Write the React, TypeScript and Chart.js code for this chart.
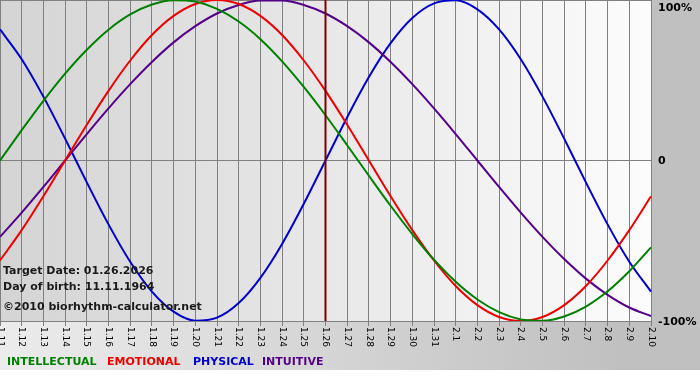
import React, { useEffect, useRef } from "react";
import { Chart, registerables } from "chart.js";

Chart.register(...registerables);

const labels = [
  "1.11", "1.12", "1.13", "1.14", "1.15", "1.16", "1.17", "1.18", "1.19", "1.20",
  "1.21", "1.22", "1.23", "1.24", "1.25", "1.26", "1.27", "1.28", "1.29", "1.30",
  "1.31", "2.1", "2.2", "2.3", "2.4", "2.5", "2.6", "2.7", "2.8", "2.9", "2.10",
];

const physical = [81.7, 63.1, 39.8, 13.6, -13.6, -39.8, -63.1, -81.7, -94.2, -99.8, -97.9, -88.8, -73.1, -52.0, -27.0, 0, 27.0, 52.0, 73.1, 88.8, 97.9, 99.8, 94.2, 81.7, 63.1, 39.8, 13.6, -13.6, -39.8, -63.1, -81.7];
const emotional = [-62.3, -43.4, -22.3, 0, 22.3, 43.4, 62.3, 78.2, 90.1, 97.5, 100, 97.5, 90.1, 78.2, 62.3, 43.4, 22.3, 0, -22.3, -43.4, -62.3, -78.2, -90.1, -97.5, -100, -97.5, -90.1, -78.2, -62.3, -43.4, -22.3];
const intellectual = [0, 18.9, 37.2, 54.1, 69.0, 81.5, 91.0, 97.2, 99.9, 99.0, 94.5, 86.6, 75.6, 61.8, 45.8, 28.2, 9.5, -9.5, -28.2, -45.8, -61.8, -75.6, -86.6, -94.5, -99.0, -99.9, -97.2, -91.0, -81.5, -69.0, -54.1];
const intuitive = [-47.6, -32.5, -16.5, 0, 16.5, 32.5, 47.6, 61.4, 73.6, 83.7, 91.6, 96.9, 99.7, 99.7, 96.9, 91.6, 83.7, 73.6, 61.4, 47.6, 32.5, 16.5, 0, -16.5, -32.5, -47.6, -61.4, -73.6, -83.7, -91.6, -96.9];

const yTickLabels = ["100%", "0", "-100%"];
const yTickValues = [100, 0, -100];
const legendItems = ["INTELLECTUAL", "EMOTIONAL", "PHYSICAL", "INTUITIVE"];
const legendX = [7, 107, 193, 262];
const colors = { intellectual: "#008000", emotional: "#ee0000", physical: "#0000cc", intuitive: "#550088" };
const legendColors = [colors.intellectual, colors.emotional, colors.physical, colors.intuitive];
const targetIndex = 15;
const infoLines = ["Target Date: 01.26.2026", "Day of birth: 11.11.1964"];
const copyright = "\u00a92010 biorhythm-calculator.net";

const decorPlugin = {
  id: "decor",
  beforeDraw(chart: any) {
    const { ctx, width, height, chartArea } = chart;
    ctx.save();
    const g = ctx.createLinearGradient(0, 0, 620, 0);
    g.addColorStop(0, "#ececec");
    g.addColorStop(1, "#c0c0c0");
    ctx.fillStyle = g;
    ctx.fillRect(0, 0, width, 370);
    ctx.fillStyle = "#ffffff";
    ctx.fillRect(0, 370, width, height - 370);
    const g2 = ctx.createLinearGradient(chartArea.left, 0, chartArea.right, 0);
    g2.addColorStop(0, "#d4d4d4");
    g2.addColorStop(1, "#fcfcfc");
    ctx.fillStyle = g2;
    ctx.fillRect(chartArea.left, chartArea.top, chartArea.right - chartArea.left, chartArea.bottom - chartArea.top);
    ctx.restore();
  },
  afterDatasetsDraw(chart: any) {
    const { ctx, chartArea, scales } = chart;
    const x = scales.x.getPixelForValue(targetIndex);
    ctx.save();
    ctx.strokeStyle = "#800000";
    ctx.lineWidth = 2;
    ctx.beginPath();
    ctx.moveTo(x, chartArea.top);
    ctx.lineTo(x, chartArea.bottom);
    ctx.stroke();

    ctx.fillStyle = "#1a1a1a";
    ctx.font = "bold 11px 'DejaVu Sans'";
    ctx.textBaseline = "middle";
    ctx.textAlign = "left";
    ctx.fillText(infoLines[0], 3, 271);
    ctx.fillText(infoLines[1], 3, 287);
    ctx.fillText(copyright, 3, 307);
    ctx.restore();
  },
  afterDraw(chart: any) {
    const { ctx, chartArea, scales } = chart;
    ctx.save();
    ctx.fillStyle = "#000000";
    ctx.font = "9px 'DejaVu Sans'";
    ctx.textAlign = "left";
    ctx.textBaseline = "middle";
    labels.forEach((lab, i) => {
      const x = scales.x.getPixelForValue(i);
      ctx.save();
      ctx.translate(x, chartArea.bottom + 6);
      ctx.rotate(Math.PI / 2);
      ctx.fillText(lab, 0, 0);
      ctx.restore();
    });
    ctx.font = "bold 11px 'DejaVu Sans'";
    yTickLabels.forEach((lab, i) => {
      let y = scales.y.getPixelForValue(yTickValues[i]);
      if (i === 0) y += 7;
      ctx.fillText(lab, chartArea.right + 7, y + 1);
    });
    legendItems.forEach((lab, i) => {
      ctx.fillStyle = legendColors[i];
      ctx.fillText(lab, legendX[i], 362);
    });
    ctx.restore();
  },
};

export default function App() {
  const ref = useRef<HTMLCanvasElement | null>(null);
  useEffect(() => {
    if (!ref.current) return;
    const chart = new Chart(ref.current, {
      type: "line",
      data: {
        labels,
        datasets: [
          { label: "INTELLECTUAL", data: intellectual, borderColor: colors.intellectual },
          { label: "EMOTIONAL", data: emotional, borderColor: colors.emotional },
          { label: "INTUITIVE", data: intuitive, borderColor: colors.intuitive },
          { label: "PHYSICAL", data: physical, borderColor: colors.physical },
        ].map((d) => ({ ...d, borderWidth: 2, pointRadius: 0, cubicInterpolationMode: "monotone", fill: false })),
      },
      options: {
        animation: false,
        responsive: false,
        devicePixelRatio: 1,
        layout: { padding: 0 },
        plugins: { legend: { display: false }, tooltip: { enabled: false } },
        scales: {
          x: {
            type: "category",
            offset: false,
            grid: { color: "#808080", lineWidth: 1, tickLength: 5, drawOnChartArea: true },
            border: { display: true, color: "#808080" },
            ticks: { display: false, autoSkip: false },
            afterFit: (s: any) => { s.height = 59; },
          },
          y: {
            position: "right",
            min: -100,
            max: 100,
            grid: { color: "#808080", lineWidth: 1, tickLength: 0 },
            border: { display: false },
            ticks: { display: false, stepSize: 100 },
            afterFit: (s: any) => { s.width = 49; },
          },
        },
      },
      plugins: [decorPlugin],
    } as any);
    return () => chart.destroy();
  }, []);
  return (
    <div style={{ position: "absolute", left: 0, top: 0, width: 700, height: 380 }}>
      <canvas ref={ref} width={700} height={380} style={{ display: "block" }} />
    </div>
  );
}
